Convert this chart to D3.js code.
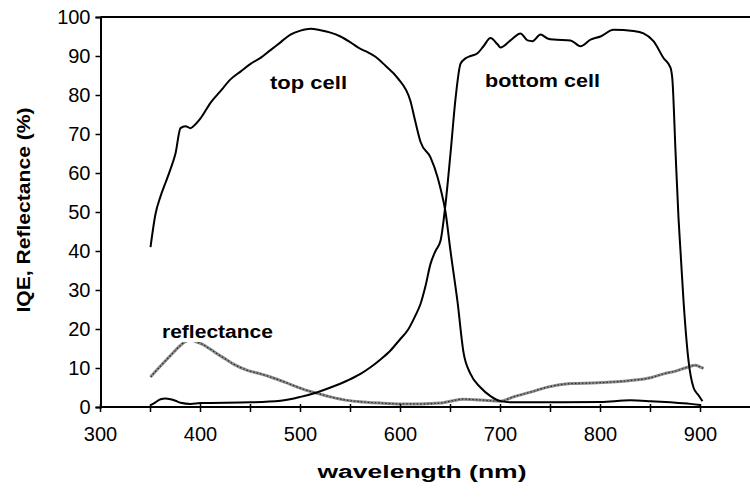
<!DOCTYPE html>
<html>
<head>
<meta charset="utf-8">
<script src="https://cdn.jsdelivr.net/npm/d3@7"></script>
<style>
  body { margin: 0; background: #fff; }
  svg { display: block; }
</style>
</head>
<body>
<div id="chart"></div>
<script>
// values
const topCellNm = [350, 355, 360, 365, 370, 375, 380, 385, 390, 395, 400, 410, 420, 430, 440, 450, 460, 470, 480, 490, 500, 510, 520, 530, 540, 550, 560, 567, 575, 585, 597, 610, 615, 620, 630, 637, 640, 645, 650, 657, 663, 670, 680, 690, 700, 710, 750, 800, 830, 850, 870, 890, 900];
const topCellIqe = [41, 49.5, 54, 57.5, 61, 65, 71.5, 72, 71.5, 72.5, 74, 78, 81, 84, 86, 88, 89.5, 91.5, 93.5, 95.5, 96.5, 97, 96.6, 96, 95, 93.5, 91.8, 91, 89.8, 87.5, 84.4, 78.4, 73, 68, 64, 59, 56, 50, 40, 27, 14, 8.5, 5, 2.8, 1.5, 1.2, 1.2, 1.3, 1.7, 1.5, 1.2, 0.8, 0.5];

const bottomCellNm = [350, 355, 360, 365, 370, 375, 380, 390, 400, 450, 480, 500, 517, 530, 547, 560, 570, 580, 590, 600, 607, 615, 620, 625, 630, 635, 640, 645, 650, 655, 660, 665, 670, 677, 683, 690, 697, 700, 710, 720, 727, 732, 740, 747, 753, 770, 780, 790, 800, 813, 833, 843, 853, 863, 870, 872, 875, 878, 880, 883, 888, 893, 898, 902];
const bottomCellIqe = [0.5, 1.2, 2, 2.2, 2, 1.6, 1.1, 0.8, 1, 1.2, 1.6, 2.6, 3.8, 5, 6.8, 8.5, 10.2, 12.2, 14.5, 17.5, 19.6, 23.5, 26.4, 31, 36.7, 40, 42.6, 52, 65, 79, 88, 89.4, 90, 90.7, 92.5, 94.6, 93, 92.2, 94, 95.8, 94, 93.8, 95.5, 94.5, 94.2, 94, 92.5, 94.2, 95, 96.7, 96.4, 95.8, 93.8, 89.5, 87, 83.6, 65.6, 48.5, 40, 27.3, 11.9, 5, 3, 1.5];

const reflNm = [350, 360, 370, 380, 385, 390, 395, 400, 410, 417, 425, 433, 447, 460, 470, 485, 497, 507, 517, 530, 547, 563, 580, 600, 620, 640, 650, 663, 680, 700, 713, 730, 747, 770, 797, 830, 850, 863, 875, 887, 895, 900, 903];
const reflVal = [7.7, 10.5, 13.2, 15.8, 16.8, 17.2, 16.8, 16.3, 14.8, 13.6, 12.3, 11, 9.4, 8.5, 7.7, 6.3, 5.1, 4.2, 3.5, 2.6, 1.7, 1.3, 1.0, 0.8, 0.8, 1.0, 1.5, 2.0, 1.8, 1.5, 2.6, 3.8, 5.1, 6.0, 6.2, 6.8, 7.5, 8.5, 9.2, 10.2, 10.7, 10.2, 9.9];

const xMajorTicks = [300, 400, 500, 600, 700, 800, 900];
const xMinorTicks = [300, 350, 400, 450, 500, 550, 600, 650, 700, 750, 800, 850, 900];
const yTicks = [0, 10, 20, 30, 40, 50, 60, 70, 80, 90, 100];

const width = 750, height = 498;
const svg = d3.select("#chart").append("svg")
    .attr("width", width)
    .attr("height", height)
    .style("font-family", "'Liberation Sans', Arial, sans-serif");

const x = d3.scaleLinear().domain([300, 950]).range([100.5, 750.5]);
const y = d3.scaleLinear().domain([0, 100]).range([407, 17]);

const zip = (xs, ys) => xs.map((v, i) => [v, ys[i]]);
const line = d3.line().x(d => x(d[0])).y(d => y(d[1])).curve(d3.curveMonotoneX);

// top frame line (no right side in the scan)
svg.append("line")
    .attr("x1", x(300)).attr("x2", width)
    .attr("y1", y(100)).attr("y2", y(100))
    .style("stroke", "#000").style("stroke-width", 2);

// reflectance - grey hatched trace
svg.append("path")
    .attr("d", line(zip(reflNm, reflVal)))
    .style("fill", "none")
    .style("stroke", "#8c8c8c")
    .style("stroke-width", 3);
svg.append("path")
    .attr("d", line(zip(reflNm, reflVal)))
    .style("fill", "none")
    .style("stroke", "#2a2a2a")
    .style("stroke-width", 1.2)
    .style("stroke-dasharray", "1.5,2");

// label box hides the reflectance peak like in the original
svg.append("rect")
    .attr("x", 160).attr("y", 322).attr("width", 116).attr("height", 20)
    .style("fill", "#fff");

svg.append("path")
    .attr("d", line(zip(topCellNm, topCellIqe)))
    .style("fill", "none").style("stroke", "#000").style("stroke-width", 2);

svg.append("path")
    .attr("d", line(zip(bottomCellNm, bottomCellIqe)))
    .style("fill", "none").style("stroke", "#000").style("stroke-width", 2);

// axes
const xAxisG = svg.append("g").attr("transform", `translate(0,${y(0)})`);
xAxisG.append("line")
    .attr("x1", x(300)).attr("x2", width)
    .style("stroke", "#000").style("stroke-width", 2);
xAxisG.selectAll(".minor").data(xMinorTicks).join("line")
    .attr("x1", d => x(d)).attr("x2", d => x(d))
    .attr("y1", -3).attr("y2", 5)
    .style("stroke", "#000").style("stroke-width", 1.5);
xAxisG.selectAll("text").data(xMajorTicks).join("text")
    .attr("x", d => x(d)).attr("y", 34)
    .attr("text-anchor", "middle")
    .style("font-size", "20px")
    .text(d => d);

const yAxis = d3.axisLeft(y).tickValues(yTicks).tickSize(5).tickPadding(5);
const yAxisG = svg.append("g").attr("transform", `translate(${x(300)},0)`).call(yAxis);
yAxisG.select(".domain").style("stroke-width", 2);
yAxisG.selectAll(".tick line").style("stroke-width", 1.5);
yAxisG.selectAll(".tick text")
    .style("font-size", "20px")
    .style("font-family", "'Liberation Sans', Arial, sans-serif");

// axis titles
svg.append("text")
    .attr("x", 422).attr("y", 478)
    .attr("text-anchor", "middle")
    .attr("textLength", 209).attr("lengthAdjust", "spacingAndGlyphs")
    .style("font-size", "18px").style("font-weight", "bold")
    .text("wavelength (nm)");

svg.append("text")
    .attr("transform", "translate(30,210) rotate(-90)")
    .attr("text-anchor", "middle")
    .attr("textLength", 205).attr("lengthAdjust", "spacingAndGlyphs")
    .style("font-size", "18px").style("font-weight", "bold")
    .text("IQE, Reflectance (%)");

// curve annotations
const notes = [
    { text: "top cell", x: 270, y: 89, len: 77 },
    { text: "bottom cell", x: 485, y: 87, len: 115 },
    { text: "reflectance", x: 162, y: 338, len: 111 }
];
svg.selectAll(".note").data(notes).join("text")
    .attr("class", "note")
    .attr("x", d => d.x).attr("y", d => d.y)
    .attr("textLength", d => d.len).attr("lengthAdjust", "spacingAndGlyphs")
    .style("font-size", "18px").style("font-weight", "bold")
    .text(d => d.text);
</script>
</body>
</html>
